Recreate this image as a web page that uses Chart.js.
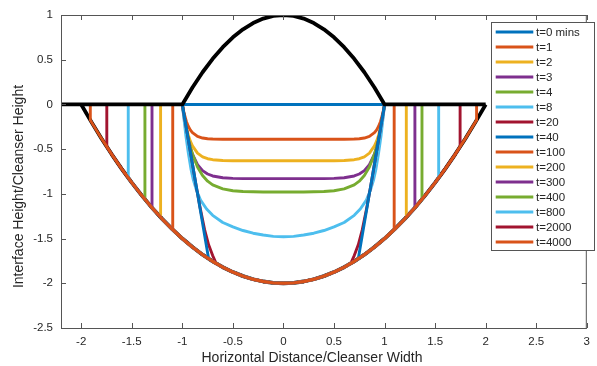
<!DOCTYPE html>
<html><head><meta charset="utf-8">
<script src="https://cdn.jsdelivr.net/npm/chart.js@4.4.0/dist/chart.umd.min.js"></script>
<style>html,body{margin:0;padding:0;background:#fff}#wrap{width:597px;height:366px;position:relative}</style>
</head><body><div id="wrap"><canvas id="c" width="597" height="366"></canvas></div>
<script>
// ---------- data ----------
const seriesLabels = ['t=0 mins','t=1','t=2','t=3','t=4','t=8','t=20','t=40','t=100','t=200','t=300','t=400','t=800','t=2000','t=4000'];

const xTicks = [-2,-1.5,-1,-0.5,0,0.5,1,1.5,2,2.5,3];
const xTickLabels = ['-2','-1.5','-1','-0.5','0','0.5','1','1.5','2','2.5','3'];
const yTicks = [-2.5,-2,-1.5,-1,-0.5,0,0.5,1];
const yTickLabels = ['-2.5','-2','-1.5','-1','-0.5','0','0.5','1'];

// cleanser bottom (bowl)
const bowlX = [-2,-1.9,-1.8,-1.7,-1.6,-1.5,-1.4,-1.3,-1.2,-1.1,-1,-0.9,-0.8,-0.7,-0.6,-0.5,-0.4,-0.3,-0.2,-0.1,0,0.1,0.2,0.3,0.4,0.5,0.6,0.7,0.8,0.9,1,1.1,1.2,1.3,1.4,1.5,1.6,1.7,1.8,1.9,2];
const bowlY = [0,-0.195,-0.38,-0.555,-0.72,-0.875,-1.02,-1.155,-1.28,-1.395,-1.5,-1.595,-1.68,-1.755,-1.82,-1.875,-1.92,-1.955,-1.98,-1.995,-2,-1.995,-1.98,-1.955,-1.92,-1.875,-1.82,-1.755,-1.68,-1.595,-1.5,-1.395,-1.28,-1.155,-1.02,-0.875,-0.72,-0.555,-0.38,-0.195,0];

// cleanser top (arch) and flat outer surface
const archX = [-1,-0.9,-0.8,-0.7,-0.6,-0.5,-0.4,-0.3,-0.2,-0.1,0,0.1,0.2,0.3,0.4,0.5,0.6,0.7,0.8,0.9,1];
const archY = [0,0.19,0.36,0.51,0.64,0.75,0.84,0.91,0.96,0.99,1,0.99,0.96,0.91,0.84,0.75,0.64,0.51,0.36,0.19,0];
const flatLeftX = -2.2, flatRightX = 2;

// t=0: flat interface
const t0X = [-1, 1];
const t0Y = [0, 0];

// early profiles (left half, symmetric about x=0)
const earlyX = [-1,-0.99,-0.98,-0.96,-0.94,-0.92,-0.9,-0.85,-0.8,-0.75,-0.7,-0.6,-0.5,-0.4,-0.3,-0.2,-0.1,0];
const t1Y = [0,-0.06,-0.11,-0.19,-0.246,-0.287,-0.316,-0.358,-0.376,-0.384,-0.387,-0.389,-0.39,-0.39,-0.39,-0.39,-0.39,-0.39];
const t2Y = [0,-0.079,-0.147,-0.26,-0.347,-0.413,-0.464,-0.545,-0.586,-0.607,-0.618,-0.627,-0.63,-0.63,-0.63,-0.63,-0.63,-0.63];
const t3Y = [0,-0.087,-0.165,-0.298,-0.404,-0.489,-0.557,-0.673,-0.74,-0.778,-0.80,-0.82,-0.827,-0.83,-0.83,-0.83,-0.83,-0.83];
const t4Y = [0,-0.078,-0.151,-0.277,-0.385,-0.477,-0.554,-0.699,-0.795,-0.858,-0.90,-0.945,-0.965,-0.973,-0.977,-0.979,-0.98,-0.98];
const t8X = [-1,-0.985,-0.965,-0.94,-0.915,-0.89,-0.86,-0.82,-0.76,-0.7,-0.6,-0.5,-0.4,-0.3,-0.2,-0.1,0];
const t8Y = [0,-0.15,-0.35,-0.55,-0.72,-0.85,-0.96,-1.07,-1.17,-1.24,-1.32,-1.37,-1.41,-1.44,-1.46,-1.475,-1.48];

// profiles reaching the bowl (left half)
const t20X = [-1,-0.955,-0.91,-0.865,-0.825,-0.78,-0.74,-0.70,-0.665];
const t20Y = [0,-0.3,-0.6,-0.9,-1.15,-1.4,-1.57,-1.69,-1.779];
const t40X = [-1,-0.74];
const t40Y = [0,-1.726];

// late times: outer vertical walls (|x| of wall, bottom y on bowl)
const wallX = [1.095,1.215,1.30,1.37,1.535,1.747,1.91];
const wallBottomY = [-1.40,-1.262,-1.155,-1.062,-0.822,-0.474,-0.176];

// ---------- styles ----------
const C = {blue:'#0072BD', orange:'#D95319', yellow:'#EDB120', purple:'#7E2F8E', green:'#77AC30', cyan:'#4DBEEE', red:'#A2142F'};
const seriesColors = [C.blue,C.orange,C.yellow,C.purple,C.green,C.cyan,C.red,C.blue,C.orange,C.yellow,C.purple,C.green,C.cyan,C.red,C.orange];
const FONT = '"Liberation Sans", Arial, Helvetica, sans-serif';
const TXT = '#262626';

// ---------- build ----------
function pts(xs, ys){ return xs.map((x,i)=>({x:x, y:ys[i]})); }
function mirror(p){ return p.slice().reverse().map(q=>({x:-q.x, y:q.y})); }
function bowlBetween(lim){ return pts(bowlX,bowlY).filter(q=>Math.abs(q.x) < lim - 1e-9); }
function symProfile(xs, ys){
  const L = pts(xs,ys); const R = mirror(L);
  if (L[L.length-1].x === 0) R.shift();
  return L.concat(R);
}
function toBowl(xs, ys){
  const L = pts(xs,ys); const lim = -L[L.length-1].x;
  return L.concat(bowlBetween(lim), mirror(L));
}
function walled(xw, yb){
  return [{x:-xw,y:0},{x:-xw,y:yb}].concat(bowlBetween(xw), [{x:xw,y:yb},{x:xw,y:0}]);
}

const seriesData = [
  pts(t0X,t0Y),
  symProfile(earlyX,t1Y),
  symProfile(earlyX,t2Y),
  symProfile(earlyX,t3Y),
  symProfile(earlyX,t4Y),
  symProfile(t8X,t8Y),
  toBowl(t20X,t20Y),
  toBowl(t40X,t40Y)
];
wallX.forEach((xw,i)=>seriesData.push(walled(xw, wallBottomY[i])));

const W = 2.9;
const datasets = seriesData.map((d,i)=>({
  label: seriesLabels[i], data: d, showLine: true, pointRadius: 0, borderWidth: W,
  borderColor: seriesColors[i], backgroundColor: seriesColors[i], fill: false,
  spanGaps: false, borderJoinStyle: 'round', order: -i
}));
// black cleanser outline: bowl underneath, top surface above
datasets.push({
  label: '_bowl', data: pts(bowlX,bowlY), showLine: true, pointRadius: 0, borderWidth: 3.8,
  borderColor: '#000', fill: false, borderJoinStyle: 'round', order: 100
});
datasets.push({
  label: '_top', data: [{x:flatLeftX,y:0}].concat(pts(archX,archY), [{x:flatRightX,y:0}]),
  showLine: true, pointRadius: 0, borderWidth: 3.8, borderColor: '#000', fill: false,
  borderJoinStyle: 'round', order: -100
});

const deco = {
  id: 'deco',
  afterDraw(chart){
    const ctx = chart.ctx, a = chart.chartArea, xs = chart.scales.x, ys = chart.scales.y;
    ctx.save();
    // box
    ctx.strokeStyle = '#555'; ctx.lineWidth = 1;
    ctx.strokeRect(a.left + 0.5, a.top + 0.5, a.right - a.left - 1, a.bottom - a.top);
    // ticks (inward, all four sides)
    const TL = 5;
    ctx.beginPath();
    xTicks.forEach(v=>{
      const p = Math.round(xs.getPixelForValue(v)) + 0.5;
      ctx.moveTo(p, a.bottom); ctx.lineTo(p, a.bottom - TL);
      ctx.moveTo(p, a.top); ctx.lineTo(p, a.top + TL);
    });
    yTicks.forEach(v=>{
      const p = Math.round(ys.getPixelForValue(v)) + 0.5;
      ctx.moveTo(a.left, p); ctx.lineTo(a.left + TL, p);
      ctx.moveTo(a.right, p); ctx.lineTo(a.right - TL, p);
    });
    ctx.stroke();
    // axis titles
    ctx.fillStyle = TXT;
    ctx.font = '14px ' + FONT;
    ctx.textAlign = 'center'; ctx.textBaseline = 'middle';
    ctx.fillText('Horizontal Distance/Cleanser Width', 312, 358);
    ctx.save();
    ctx.translate(19.5, 186.5); ctx.rotate(-Math.PI/2);
    ctx.fillText('Interface Height/Cleanser Height', 0, 0);
    ctx.restore();
    // legend
    const lx = 491.5, ly = 22.5, lw = 103, lh = 228;
    ctx.fillStyle = '#fff'; ctx.fillRect(lx, ly, lw, lh);
    ctx.strokeStyle = '#555'; ctx.lineWidth = 1; ctx.strokeRect(lx, ly, lw, lh);
    ctx.font = '11.5px ' + FONT; ctx.textAlign = 'left'; ctx.textBaseline = 'middle';
    seriesLabels.forEach((lab,i)=>{
      const y = 32 + 15*i;
      ctx.strokeStyle = seriesColors[i]; ctx.lineWidth = W; ctx.lineCap = 'butt';
      ctx.beginPath(); ctx.moveTo(495.7, y); ctx.lineTo(533.3, y); ctx.stroke();
      ctx.fillStyle = TXT; ctx.fillText(lab, 536, y + 0.5);
    });
    ctx.restore();
  }
};

new Chart(document.getElementById('c'), {
  type: 'scatter',
  data: { datasets: datasets },
  options: {
    responsive: false, animation: false, devicePixelRatio: 1,
    layout: { padding: { top: 15, right: 3, left: 0, bottom: 0 } },
    plugins: { legend: { display: false }, tooltip: { enabled: false } },
    scales: {
      x: {
        type: 'linear', min: -2.2, max: 3,
        grid: { display: false, drawTicks: false }, border: { display: false },
        afterBuildTicks: s => { s.ticks = xTicks.map(v=>({value:v})); },
        afterFit: s => { s.height = 38; },
        ticks: { padding: 7, maxRotation: 0, autoSkip: false, color: TXT, font: { family: FONT, size: 11.5 },
          callback: v => { const i = xTicks.indexOf(v); return i >= 0 ? xTickLabels[i] : ''; } }
      },
      y: {
        type: 'linear', min: -2.5, max: 1,
        grid: { display: false, drawTicks: false }, border: { display: false },
        afterBuildTicks: s => { s.ticks = yTicks.map(v=>({value:v})); },
        afterFit: s => { s.width = 61; },
        ticks: { padding: 8, autoSkip: false, color: TXT, font: { family: FONT, size: 11.5 },
          callback: v => { const i = yTicks.indexOf(v); return i >= 0 ? yTickLabels[i] : ''; } }
      }
    }
  },
  plugins: [deco]
});
</script></body></html>
